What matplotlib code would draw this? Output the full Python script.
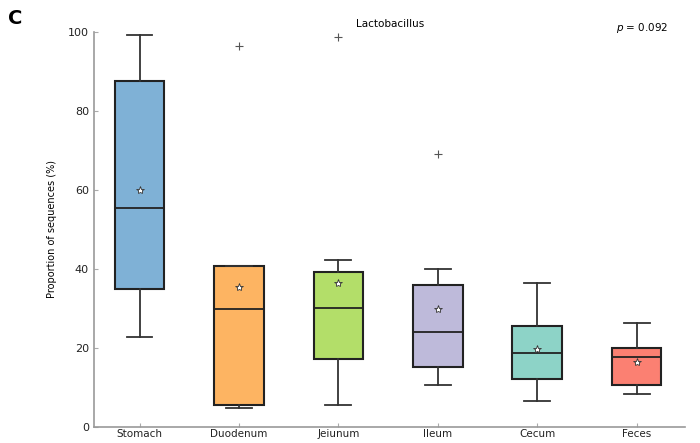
import numpy as np
import matplotlib
matplotlib.use("Agg")
import matplotlib.pyplot as plt

# box statistics (percent of sequences)
sites = ["Stomach", "Duodenum", "Jeiunum", "Ileum", "Cecum", "Feces"]
whislo = [22.6, 4.7, 5.4, 10.6, 6.6, 8.3]
q1 = [34.9, 5.6, 17.1, 15.0, 12.1, 10.6]
med = [55.5, 29.8, 30.0, 24.0, 18.7, 17.6]
q3 = [87.5, 40.8, 39.2, 36.0, 25.5, 19.8]
whishi = [99.2, 40.8, 42.2, 39.9, 36.4, 26.3]
means = [59.9, 35.4, 36.5, 29.9, 19.6, 16.4]
fliers = [[], [96.4], [98.6], [69.0], [], []]
colors = ["#7fb1d6", "#fdb462", "#b3de69", "#bebada", "#8dd3c7", "#fb8072"]

def run():
    fig = plt.figure(figsize=(7, 4.43), dpi=100)
    ax = fig.add_axes([0.134, 0.037, 0.845, 0.891])

    stats = []
    for i, name in enumerate(sites):
        stats.append(dict(label=name, whislo=whislo[i], q1=q1[i], med=med[i],
                          q3=q3[i], whishi=whishi[i], mean=means[i],
                          fliers=np.array(fliers[i])))

    bp = ax.bxp(stats, positions=range(1, 7), widths=0.5, capwidths=0.26,
                patch_artist=True, showmeans=True,
                boxprops=dict(edgecolor="#222222", linewidth=1.5),
                medianprops=dict(color="#222222", linewidth=1.3),
                whiskerprops=dict(color="#333333", linewidth=1.3),
                capprops=dict(color="#333333", linewidth=1.3),
                flierprops=dict(marker="+", markeredgecolor="#555555",
                                markersize=6, markeredgewidth=0.8),
                meanprops=dict(marker="*", markerfacecolor="white",
                               markeredgecolor="#333333", markersize=6,
                               markeredgewidth=0.6))
    for patch, c in zip(bp["boxes"], colors):
        patch.set_facecolor(c)

    ax.set_xlim(0.54, 6.49)
    ax.set_ylim(0, 100)
    ax.set_yticks([0, 20, 40, 60, 80, 100])
    for s in ["top", "right"]:
        ax.spines[s].set_visible(False)
    for s in ["left", "bottom"]:
        ax.spines[s].set_color("#999999")
        ax.spines[s].set_linewidth(1.2)
    ax.tick_params(direction="in", length=3, color="#aaaaaa",
                   labelsize=8, labelcolor="#222222")
    ax.tick_params(axis="x", pad=1.5, labelsize=7.5)

    ax.set_ylabel("Proportion of sequences (%)", fontsize=7,
                  labelpad=8)
    fig.text(0.557, 0.94, "Lactobacillus", fontsize=7.5, ha="center")
    fig.text(0.955, 0.93, "$p$ = 0.092", fontsize=7.5, ha="right")
    fig.text(0.012, 0.945, "C", fontsize=14, fontweight="bold")

    fig.savefig("out.png", dpi=100)

if __name__ == "__main__":
    run()
